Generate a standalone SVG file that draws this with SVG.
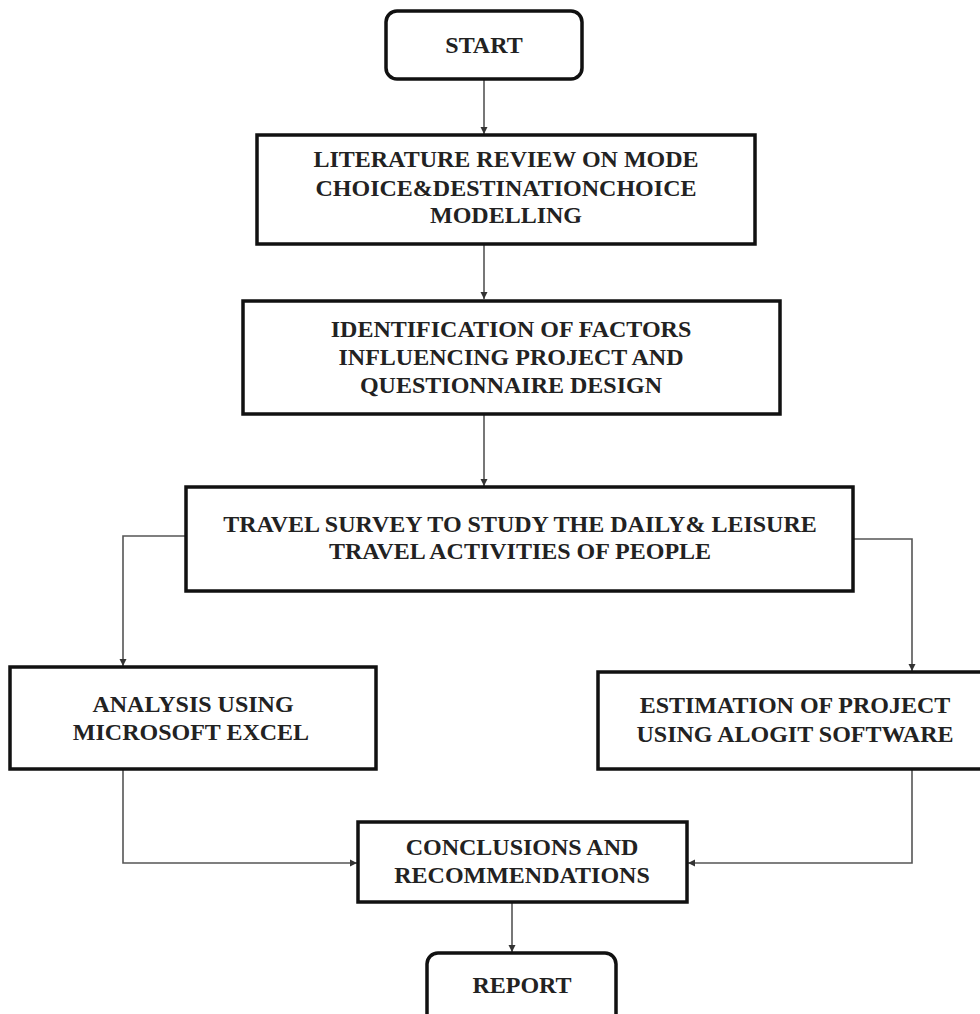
<svg xmlns="http://www.w3.org/2000/svg" width="980" height="1014" viewBox="0 0 980 1014">
<style>
.box{fill:#ffffff;stroke:#111111;stroke-width:3.5}
.rbox{fill:#ffffff;stroke:#111111;stroke-width:3.5}
.t{font-family:"Liberation Serif","Times New Roman",serif;font-weight:bold;font-size:24px;fill:#222222;text-anchor:middle}
.c{fill:none;stroke:#555555;stroke-width:1.6}
</style>
<defs>
<marker id="ah" markerUnits="userSpaceOnUse" markerWidth="8" markerHeight="8" refX="7" refY="4" orient="auto">
<path d="M0,0.5 L7,4 L0,7.5 z" fill="#333333"/>
</marker>
</defs>
<rect width="980" height="1014" fill="#ffffff"/>
<g id="connectors">
<path class="c" d="M484,79 V134" marker-end="url(#ah)"/>
<path class="c" d="M484,244 V299" marker-end="url(#ah)"/>
<path class="c" d="M484,414 V486" marker-end="url(#ah)"/>
<path class="c" d="M186,536 H123 V666" marker-end="url(#ah)"/>
<path class="c" d="M853,539 H912 V671" marker-end="url(#ah)"/>
<path class="c" d="M123,769 V863 H357" marker-end="url(#ah)"/>
<path class="c" d="M912,769 V863 H688" marker-end="url(#ah)"/>
<path class="c" d="M512,902 V952" marker-end="url(#ah)"/>
</g>
<g id="start">
<rect class="rbox" x="386" y="11" width="196" height="68" rx="11"/>
<text class="t" x="484" y="53">START</text>
</g>
<g id="literature">
<rect class="box" x="257" y="135" width="498" height="109"/>
<text class="t" x="506" y="167">LITERATURE REVIEW ON  MODE</text>
<text class="t" x="506" y="196">CHOICE&amp;DESTINATIONCHOICE</text>
<text class="t" x="506" y="223">MODELLING</text>
</g>
<g id="identification">
<rect class="box" x="243" y="301" width="537" height="113"/>
<text class="t" x="511" y="337">IDENTIFICATION OF FACTORS</text>
<text class="t" x="511" y="365">INFLUENCING PROJECT AND</text>
<text class="t" x="511" y="393">QUESTIONNAIRE DESIGN</text>
</g>
<g id="travel">
<rect class="box" x="186" y="487" width="667" height="104"/>
<text class="t" x="520" y="532">TRAVEL SURVEY TO STUDY THE DAILY&amp; LEISURE</text>
<text class="t" x="520" y="559">TRAVEL ACTIVITIES OF PEOPLE</text>
</g>
<g id="analysis">
<rect class="box" x="10" y="667" width="366" height="102"/>
<text class="t" x="193" y="712">ANALYSIS USING</text>
<text class="t" x="191" y="740">MICROSOFT EXCEL</text>
</g>
<g id="estimation">
<rect class="box" x="598" y="672" width="400" height="97"/>
<text class="t" x="795" y="713">ESTIMATION OF PROJECT</text>
<text class="t" x="795" y="742">USING ALOGIT SOFTWARE</text>
</g>
<g id="conclusions">
<rect class="box" x="358" y="822" width="329" height="80"/>
<text class="t" x="522" y="855">CONCLUSIONS AND</text>
<text class="t" x="522" y="883">RECOMMENDATIONS</text>
</g>
<g id="report">
<rect class="rbox" x="427" y="953" width="189" height="80" rx="11"/>
<text class="t" x="522" y="993">REPORT</text>
</g>
</svg>
